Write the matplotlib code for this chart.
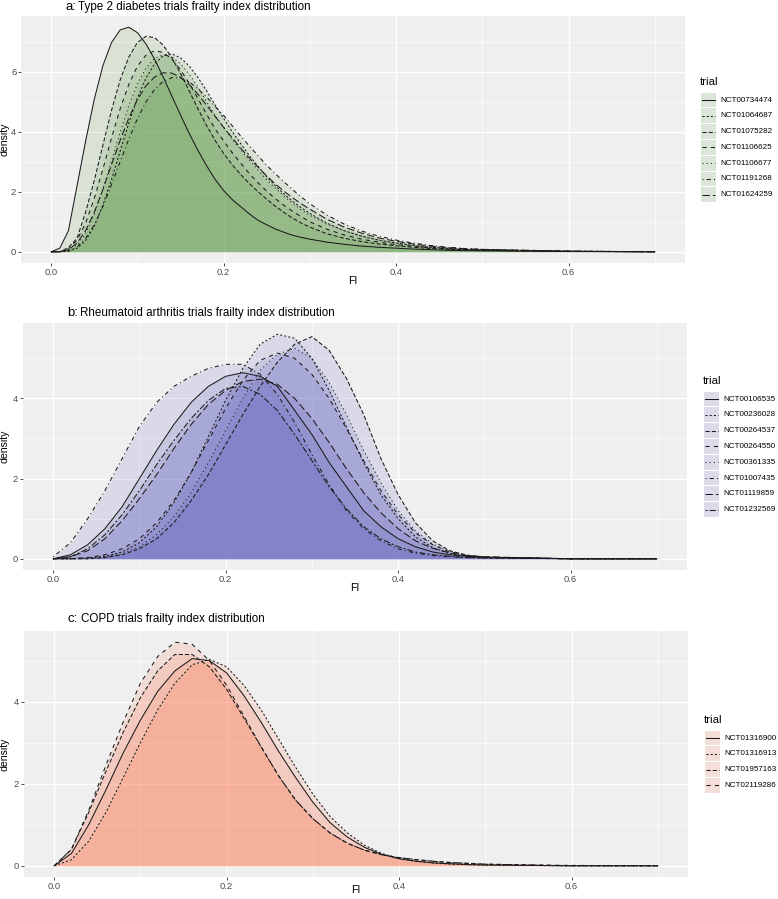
#!/usr/bin/env python
"""
frailty index density curves of three groups of trials
"""

import matplotlib
matplotlib.use('Agg')
import matplotlib.pyplot as plt
from matplotlib.patches import Rectangle
from matplotlib.lines import Line2D

plt.rcParams['font.family'] = ['Liberation Sans', 'DejaVu Sans']

# FI values where the density curves were read (finer grid for the sharp diabetes curves)
fi_grid_fine = [0.00, 0.01, 0.02, 0.03, 0.04, 0.05, 0.06, 0.07, 0.08, 0.09,
                0.10, 0.11, 0.12, 0.13, 0.14, 0.15, 0.16, 0.17, 0.18, 0.19,
                0.20, 0.21, 0.22, 0.23, 0.24, 0.25, 0.26, 0.27, 0.28, 0.29,
                0.30, 0.32, 0.34, 0.36, 0.38, 0.40, 0.42, 0.44, 0.46, 0.48,
                0.50, 0.60, 0.70]
fi_grid = [0.00, 0.02, 0.04, 0.06, 0.08, 0.10, 0.12, 0.14, 0.16, 0.18,
           0.20, 0.22, 0.24, 0.26, 0.28, 0.30, 0.32, 0.34, 0.36, 0.38,
           0.40, 0.42, 0.44, 0.46, 0.48, 0.50, 0.60, 0.70]

# a: type 2 diabetes (on fi_grid_fine)
diab_trials = ['NCT00734474', 'NCT01064687', 'NCT01075282', 'NCT01106625',
               'NCT01106677', 'NCT01191268', 'NCT01624259']
diab_density = [
    [0, 0.12, 0.7, 2.2, 3.7, 5.09, 6.21, 6.98, 7.40, 7.49, 7.31, 6.93, 6.42, 5.82, 5.19, 4.56, 3.95, 3.39, 2.88, 2.42,
     2.04, 1.74, 1.5, 1.26, 1.05, 0.9, 0.76, 0.65, 0.55, 0.48, 0.42, 0.32, 0.25, 0.19, 0.15, 0.12, 0.09, 0.07, 0.05, 0.04,
     0.03, 0.01, 0],
    [0, 0, 0.02, 0.12, 0.38, 0.86, 1.56, 2.42, 3.36, 4.29, 5.13, 5.80, 6.27, 6.54, 6.60, 6.47, 6.20, 5.82, 5.38, 4.9,
     4.45, 4.0, 3.6, 3.2, 2.85, 2.5, 2.2, 1.93, 1.68, 1.47, 1.28, 0.95, 0.7, 0.52, 0.39, 0.29, 0.21, 0.15, 0.11, 0.08,
     0.06, 0.02, 0],
    [0, 0, 0.14, 0.45, 1.33, 2.38, 3.56, 4.72, 5.73, 6.49, 6.98, 7.19, 7.14, 6.89, 6.47, 5.95, 5.37, 4.78, 4.22, 3.72,
     3.28, 2.9, 2.57, 2.27, 2.0, 1.75, 1.52, 1.31, 1.12, 0.96, 0.82, 0.6, 0.45, 0.34, 0.26, 0.2, 0.15, 0.11, 0.08, 0.06,
     0.05, 0.015, 0],
    [0, 0, 0.09, 0.39, 0.96, 1.78, 2.76, 3.80, 4.77, 5.58, 6.19, 6.56, 6.71, 6.65, 6.42, 6.07, 5.62, 5.12, 4.6, 4.1,
     3.7, 3.3, 2.95, 2.6, 2.3, 2.02, 1.77, 1.55, 1.35, 1.17, 1.0, 0.75, 0.56, 0.42, 0.32, 0.24, 0.18, 0.13, 0.1, 0.07,
     0.05, 0.015, 0],
    [0, 0, 0.05, 0.23, 0.62, 1.25, 2.09, 3.03, 3.99, 4.87, 5.60, 6.13, 6.45, 6.57, 6.50, 6.27, 5.93, 5.50, 5.02, 4.55,
     4.15, 3.75, 3.4, 3.05, 2.72, 2.4, 2.12, 1.86, 1.62, 1.4, 1.22, 0.92, 0.7, 0.52, 0.39, 0.29, 0.21, 0.15, 0.11, 0.08,
     0.06, 0.02, 0],
    [0, 0, 0.03, 0.16, 0.45, 0.90, 1.52, 2.24, 3.01, 3.76, 4.44, 5.0, 5.42, 5.69, 5.81, 5.80, 5.67, 5.44, 5.17, 4.85,
     4.55, 4.2, 3.85, 3.52, 3.2, 2.88, 2.6, 2.33, 2.07, 1.83, 1.6, 1.22, 0.92, 0.69, 0.52, 0.39, 0.29, 0.21, 0.15, 0.11,
     0.08, 0.02, 0],
    [0, 0, 0.07, 0.29, 0.71, 1.32, 2.08, 2.91, 3.72, 4.46, 5.08, 5.54, 5.83, 5.97, 5.96, 5.82, 5.58, 5.26, 4.9, 4.52,
     4.15, 3.8, 3.45, 3.12, 2.82, 2.53, 2.26, 2.02, 1.8, 1.6, 1.42, 1.08, 0.82, 0.62, 0.46, 0.35, 0.26, 0.19, 0.14, 0.1,
     0.08, 0.02, 0],
]

# b: rheumatoid arthritis (on fi_grid)
ra_trials = ['NCT00106535', 'NCT00236028', 'NCT00264537', 'NCT00264550',
             'NCT00361335', 'NCT01007435', 'NCT01119859', 'NCT01232569']
ra_density = [
    [0, 0.1, 0.35, 0.75, 1.3, 2.0, 2.7, 3.35, 3.9, 4.3, 4.55, 4.64, 4.55, 4.3, 3.7, 3.1, 2.4, 1.8, 1.2, 0.8, 0.5, 0.3, 0.17, 0.1, 0.06, 0.04, 0, 0],
    [0, 0, 0.02, 0.06, 0.17, 0.4, 0.8, 1.4, 2.15, 3.05, 3.95, 4.75, 5.35, 5.6, 5.5, 5.0, 4.2, 3.3, 2.4, 1.6, 1.0, 0.55, 0.28, 0.13, 0.06, 0.03, 0, 0],
    [0, 0, 0, 0.03, 0.1, 0.25, 0.5, 0.9, 1.45, 2.1, 2.85, 3.6, 4.3, 4.9, 5.35, 5.54, 5.2, 4.5, 3.6, 2.5, 1.6, 0.9, 0.45, 0.2, 0.09, 0.04, 0, 0],
    [0, 0, 0.03, 0.1, 0.25, 0.5, 0.9, 1.45, 2.15, 2.95, 3.75, 4.45, 4.95, 5.13, 5.0, 4.6, 4.0, 3.25, 2.45, 1.7, 1.1, 0.65, 0.35, 0.17, 0.08, 0.04, 0, 0],
    [0, 0, 0.01, 0.05, 0.13, 0.3, 0.6, 1.05, 1.65, 2.4, 3.2, 4.0, 4.7, 5.1, 5.25, 5.0, 4.4, 3.6, 2.7, 1.9, 1.2, 0.7, 0.37, 0.18, 0.08, 0.04, 0, 0],
    [0.05, 0.4, 1.0, 1.7, 2.5, 3.3, 3.9, 4.3, 4.55, 4.75, 4.85, 4.85, 4.6, 4.1, 3.4, 2.6, 1.85, 1.2, 0.75, 0.45, 0.25, 0.14, 0.08, 0.05, 0.03, 0.02, 0, 0],
    [0, 0.05, 0.2, 0.5, 0.95, 1.5, 2.1, 2.75, 3.35, 3.85, 4.2, 4.42, 4.48, 4.35, 4.0, 3.5, 2.9, 2.25, 1.65, 1.15, 0.75, 0.45, 0.26, 0.15, 0.08, 0.05, 0, 0],
    [0, 0.05, 0.25, 0.6, 1.1, 1.7, 2.35, 2.95, 3.5, 3.95, 4.25, 4.3, 4.1, 3.7, 3.1, 2.45, 1.8, 1.25, 0.8, 0.5, 0.3, 0.17, 0.1, 0.06, 0.03, 0.02, 0, 0],
]

# c: COPD (on fi_grid)
copd_trials = ['NCT01316900', 'NCT01316913', 'NCT01957163', 'NCT02119286']
copd_density = [
    [0, 0.3, 1.0, 1.85, 2.75, 3.55, 4.25, 4.75, 5.05, 5.0, 4.7, 4.15, 3.5, 2.8, 2.15, 1.55, 1.05, 0.7, 0.45, 0.28, 0.17, 0.11, 0.07, 0.05, 0.03, 0.02, 0, 0],
    [0, 0.15, 0.6, 1.3, 2.15, 3.0, 3.8, 4.45, 4.9, 5.03, 4.85, 4.4, 3.8, 3.1, 2.4, 1.75, 1.2, 0.8, 0.5, 0.3, 0.18, 0.11, 0.07, 0.04, 0.03, 0.02, 0, 0],
    [0, 0.4, 1.3, 2.3, 3.25, 4.1, 4.75, 5.15, 5.15, 4.85, 4.3, 3.6, 2.9, 2.2, 1.6, 1.15, 0.8, 0.55, 0.38, 0.27, 0.2, 0.15, 0.11, 0.08, 0.06, 0.04, 0, 0],
    [0, 0.4, 1.35, 2.45, 3.5, 4.45, 5.1, 5.45, 5.4, 5.0, 4.4, 3.65, 2.9, 2.2, 1.6, 1.15, 0.8, 0.55, 0.38, 0.27, 0.2, 0.15, 0.11, 0.08, 0.06, 0.04, 0.01, 0],
]

# ggplot default linetype sequence
linetypes = ['-', (0, (2, 2)), (0, (4, 2)), (0, (4, 4)), (0, (1, 3)),
             (0, (1, 3, 4, 3)), (0, (7, 3)), (0, (2, 2, 6, 2))]

W, H = 778, 899
FILL_ALPHA = 0.15
LW = 0.75


def fig_box(left, top, right, bottom):
    # pixel box (from top left) to figure fraction
    return [left / W, 1 - bottom / H, (right - left) / W, (bottom - top) / H]


def px(x, y):
    return x / W, 1 - y / H


def draw_panel(fig, box, grid, trials, density, fill, yticks, prefix, title,
               title_x, title_y, legend_x, legend_y):
    ax = fig.add_axes(fig_box(*box))
    ax.set_facecolor('#efefef')
    for sp in ax.spines.values():
        sp.set_visible(False)

    for i, trial in enumerate(trials):
        ax.fill_between(grid, 0, density[i], color=fill, alpha=FILL_ALPHA,
                        lw=0, zorder=2)
        ax.plot(grid, density[i], color='#1a1a1a', lw=LW, ls=linetypes[i],
                dash_capstyle='butt', zorder=3)

    ax.set_xlim(-0.035, 0.735)
    ax.margins(y=0.05)
    ax.set_xticks([0.0, 0.2, 0.4, 0.6])
    ax.set_xticklabels(['0.0', '0.2', '0.4', '0.6'])
    ax.set_xticks([0.1, 0.3, 0.5, 0.7], minor=True)
    ax.set_yticks(yticks)
    ax.set_yticks([v + 1 for v in yticks], minor=True)
    ax.grid(which='major', color='white', lw=0.9, zorder=0)
    ax.grid(which='minor', color='white', lw=0.45, zorder=0)
    ax.set_axisbelow(True)
    ax.tick_params(which='major', length=2.2, width=0.6, color='#333333',
                   labelsize=6.8, labelcolor='#4d4d4d', pad=1.2)
    ax.tick_params(which='minor', length=0)

    # axis titles
    left, top, right, bottom = box
    fx, fy = px((left + right) / 2, min(bottom + 18, H - 9))
    fig.text(fx, fy, 'FI', fontsize=7.6, ha='center', va='center')
    dx, dy = px(5, (top + bottom) / 2)
    fig.text(dx, dy, 'density', fontsize=7.6, ha='center', va='center', rotation=90)

    # title: a larger letter tag then the text
    tx, ty = px(title_x, title_y)
    fig.text(tx, ty, prefix, fontsize=9.5, va='baseline', ha='left')
    tx2, _ = px(title_x + 13, title_y)
    fig.text(tx2, ty, title, fontsize=8.4, va='baseline', ha='left')

    # legend drawn like ggplot keys
    lx, ly = px(legend_x, legend_y)
    fig.text(lx, ly, 'trial', fontsize=8.2, va='center', ha='left')
    key_h = 15.8
    for i, trial in enumerate(trials):
        cy = legend_y + 18 + key_h * i
        x0, y0 = px(legend_x + 0.5, cy + key_h / 2 - 0.5)
        kw, kh = 15.5 / W, (key_h - 1) / H
        fig.patches.append(Rectangle((x0, y0), kw, kh, transform=fig.transFigure,
                                     facecolor='#f2f2f2', edgecolor='none'))
        fig.patches.append(Rectangle((x0, y0), kw, kh, transform=fig.transFigure,
                                     facecolor=fill, alpha=FILL_ALPHA, edgecolor='none'))
        la, lb = px(legend_x + 2, cy)
        le, _ = px(legend_x + 14.5, cy)
        fig.lines.append(Line2D([la, le], [lb, lb], transform=fig.transFigure,
                                color='#1a1a1a', lw=LW, ls=linetypes[i],
                                dash_capstyle='butt'))
        tx3, ty3 = px(legend_x + 20, cy)
        fig.text(tx3, ty3, trial, fontsize=5.8, va='center', ha='left')
    return ax


fig = plt.figure(figsize=(W / 100, H / 100), dpi=100)

draw_panel(fig, (21, 16, 685, 263), fi_grid_fine, diab_trials, diab_density, '#629d4d',
           [0, 2, 4, 6], 'a:', 'Type 2 diabetes trials frailty index distribution',
           65, 10, 700, 82)
draw_panel(fig, (23, 323, 687, 570), fi_grid, ra_trials, ra_density, '#5d5dbf',
           [0, 2, 4], 'b:', 'Rheumatoid arthritis trials frailty index distribution',
           67, 316, 703, 381)
draw_panel(fig, (24, 631, 688, 877), fi_grid, copd_trials, copd_density, '#ff6e45',
           [0, 2, 4], 'c:', 'COPD trials frailty index distribution',
           68, 622, 704, 720)

fig.savefig('out.png', dpi=100)
